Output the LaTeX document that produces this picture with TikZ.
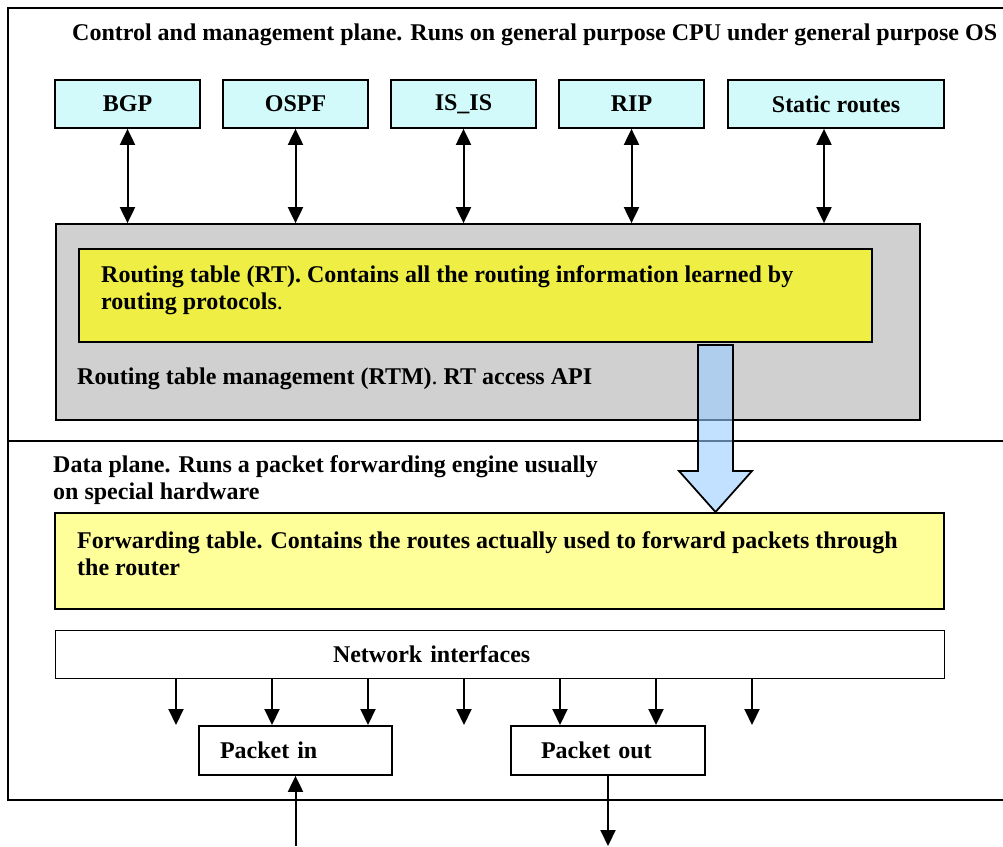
\documentclass[tikz,border=0pt]{standalone}
\usepackage{fontspec}
\setmainfont{Liberation Serif}
\usetikzlibrary{arrows.meta, positioning}

\definecolor{protocyan}{HTML}{D2FAFA}
\definecolor{rtmgrey}{HTML}{D0D0D0}
\definecolor{rtyellow}{HTML}{EEEE44}
\definecolor{ftyellow}{HTML}{FFFF99}
\definecolor{flowblue}{HTML}{99CCFF}

\tikzset{
  txt/.style={font=\fontsize{24}{27.6}\selectfont\bfseries, inner sep=0pt},
  box/.style={draw, line width=1.75pt, txt},
  proto/.style={box, fill=protocyan, minimum width=145pt, minimum height=48pt},
  pkt/.style={box, minimum width=193pt, minimum height=49pt, align=left},
  dbl/.style={<->, line width=2pt},
  arr/.style={->, line width=2pt},
}

\begin{document}
\begin{tikzpicture}[x=1pt, y=-1pt, >={Triangle[length=16pt, width=15pt]}]
\useasboundingbox (0,0) rectangle (1003,846);
\draw[line width=2pt] (1003,8) -| (8,800) -- (1003,800);
\draw[line width=2pt] (8,441) -- (1003,441);

\node[txt, anchor=west] (ctl) at (72,35) {Control and management plane. Runs on general purpose CPU under general purpose OS};

\node[proto] (bgp) at (127.5,104) {BGP};
\node[proto] (ospf) at (295.5,104) {OSPF};
\node[proto] (isis) at (463.5,104) {IS\_IS};
\node[proto] (rip) at (631.5,104) {RIP};
\node[proto, minimum width=216pt] (stat) at (836,104) {Static routes};

\node[box, fill=rtmgrey, minimum width=864pt, minimum height=196pt] (rtm) at (488,322) {};
\node[box, fill=rtyellow, minimum width=793pt, minimum height=93pt] (rt) at (475.5,295.5) {};
\node[txt, anchor=west, align=left] (rtlbl) at (101,290) {Routing table (RT). Contains all the routing information learned by\\routing protocols{\mdseries.}};
\node[txt, anchor=west] (rtmlbl) at (77,379) {Routing table management (RTM){\mdseries.} RT access API};

\foreach \p in {bgp, ospf, isis, rip}
  \draw[dbl] (\p.south) -- (\p.south |- rtm.north);
\draw[dbl] ([xshift=-12pt]stat.south) -- ([xshift=-12pt]stat.south |- rtm.north);

\draw[line width=1.75pt, fill=flowblue, fill opacity=0.6] (698,345) -- (733,345) -- (733,471) -- (752,471) -- (715.5,512) -- (679,471) -- (698,471) -- cycle;

\node[txt, anchor=west, align=left] (dplbl) at (53,480) {Data plane. Runs a packet forwarding engine usually\\on special hardware};

\node[box, fill=ftyellow, minimum width=889pt, minimum height=96pt] (ft) at (499.5,561) {};
\node[txt, anchor=west, align=left] (ftlbl) at (77,553.5) {Forwarding table. Contains the routes actually used to forward packets through\\the router};

\node[draw, line width=1pt, txt, minimum width=889pt, minimum height=48pt, text width=333pt, inner xsep=278pt, align=left] (ni) at (499.5,654) {Network interfaces};

\foreach \x [count=\i] in {176,272,...,752} {
  \coordinate (tip\i) at (\x,725);
  \draw[arr] (ni.south -| tip\i) -- (tip\i);
}

\node[pkt, text width=151pt, inner xsep=21pt] (pin) at (295.5,750.5) {Packet in};
\node[pkt, text width=134pt, inner xsep=30pt] (pout) at (608,750.5) {Packet out};

\coordinate (inlet) at (295.5,846);
\coordinate (outlet) at (608,846);
\draw[arr] (inlet) -- (pin.south);
\draw[arr] (pout.south) -- (outlet);
\end{tikzpicture}
\end{document}
